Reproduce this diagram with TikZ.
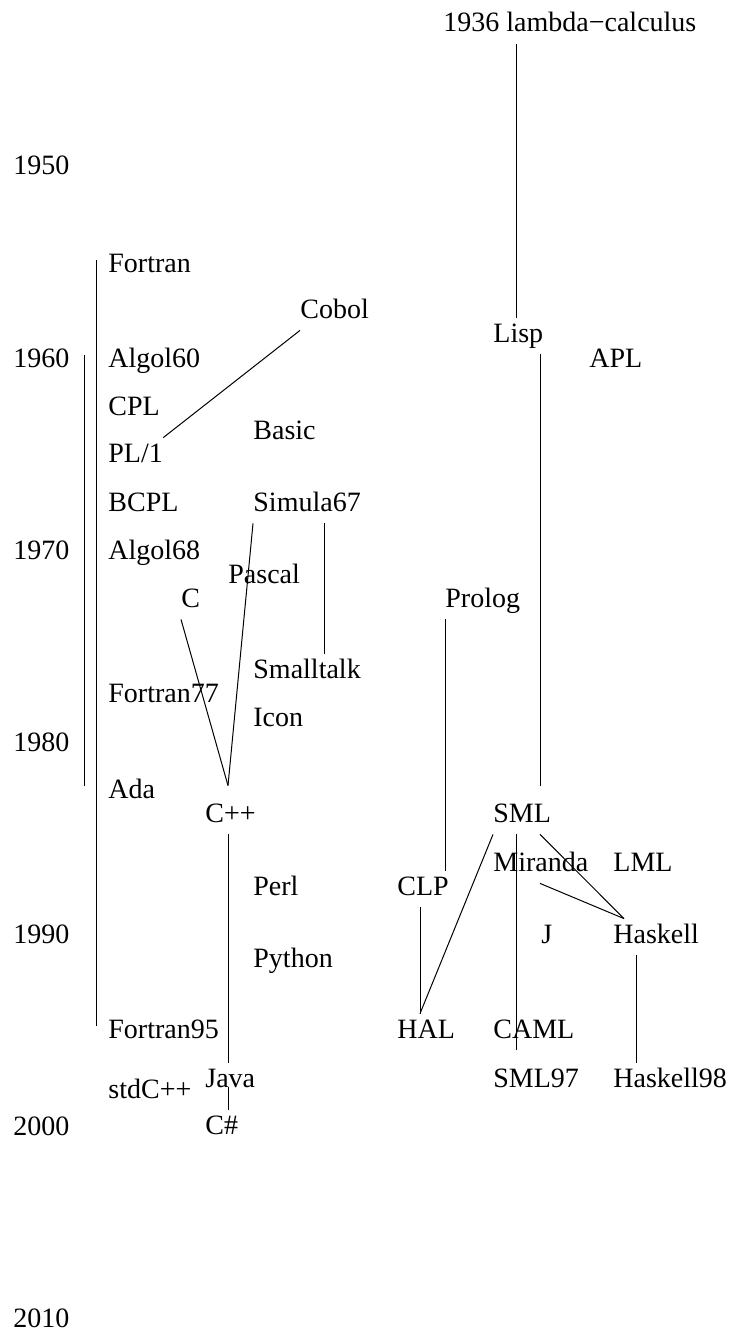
\documentclass[tikz,border=0pt]{standalone}
\usepackage{fontspec}
\setmainfont{Liberation Serif}
\tikzset{
	lang/.style={anchor=base west, inner sep=0pt, text height=12pt, text depth=6pt,
		font=\fontsize{14pt}{16pt}\selectfont},
	link/.style={line width=.5pt}
}
\begin{document}
\begin{tikzpicture}[x=.5pt,y=-.5pt]
	\useasboundingbox (0,0) rectangle (735,1332);
	\foreach \yr [count=\i from 0] in {1950,1960,...,2010}
		\node[lang] (y\yr) at (13,175+192*\i) {\yr};
	\node[lang] (lambda) at (443,32) {1936 lambda−calculus};
	\node[lang] (fortran) at (108,272) {Fortran};
	\node[lang] (cobol) at (300,318) {Cobol};
	\node[lang] (lisp) at (493,342) {Lisp};
	\node[lang] (algol60) at (108,367) {Algol60};
	\node[lang] (apl) at (589,367) {APL};
	\node[lang] (cpl) at (108,415) {CPL};
	\node[lang] (basic) at (253,439) {Basic};
	\node[lang] (pl1) at (108,462) {PL/1};
	\node[lang] (bcpl) at (108,511) {BCPL};
	\node[lang] (simula67) at (253,511) {Simula67};
	\node[lang] (algol68) at (108,559) {Algol68};
	\node[lang] (pascal) at (228,583) {Pascal};
	\node[lang] (c) at (181,607) {C};
	\node[lang] (prolog) at (445,607) {Prolog};
	\node[lang] (smalltalk) at (253,678) {Smalltalk};
	\node[lang] (fortran77) at (108,702) {Fortran77};
	\node[lang] (icon) at (253,726) {Icon};
	\node[lang] (ada) at (108,798) {Ada};
	\node[lang] (cpp) at (205,822) {C++};
	\node[lang] (sml) at (493,822) {SML};
	\node[lang] (miranda) at (493,871) {Miranda};
	\node[lang] (lml) at (613,871) {LML};
	\node[lang] (perl) at (253,895) {Perl};
	\node[lang] (clp) at (397,895) {CLP};
	\node[lang] (j) at (541,943) {J};
	\node[lang] (haskell) at (613,943) {Haskell};
	\node[lang] (python) at (253,967) {Python};
	\node[lang] (fortran95) at (108,1038) {Fortran95};
	\node[lang] (hal) at (397,1038) {HAL};
	\node[lang] (caml) at (493,1038) {CAML};
	\node[lang] (java) at (205,1087) {Java};
	\node[lang] (sml97) at (493,1087) {SML97};
	\node[lang] (haskell98) at (613,1087) {Haskell98};
	\node[lang] (stdcpp) at (108,1098) {stdC++};
	\node[lang] (csharp) at (205,1134) {C\#};
	% imperative side
	\draw[link] ([xshift=-6pt,yshift=6pt]fortran.base west) -- ([xshift=-6pt,yshift=6pt]fortran95.base west);
	\draw[link] ([xshift=-12pt,yshift=6pt]algol60.base west) -- ([xshift=-12pt,yshift=6pt]ada.base west);
	\draw[link] (cobol.south west) -- (pl1.north east);
	\draw[link] (simula67.south west) -- ([xshift=11.5pt,yshift=6pt]cpp.north west);
	\draw[link] (c.south west) -- ([xshift=11.5pt,yshift=6pt]cpp.north west);
	\draw[link] ([xshift=35.5pt]simula67.south west) -- ([xshift=35.5pt]smalltalk.north west);
	\draw[link] ([xshift=11.5pt]cpp.south west) -- ([xshift=11.5pt]java.north west);
	\draw[link] ([xshift=11.5pt]java.base west) -- ([xshift=11.5pt]csharp.north west);
	% functional and logic side
	\draw[link] ([xshift=11.5pt]lisp.north west) -- ([xshift=11.5pt]lisp.north west |- lambda.south);
	\draw[link] ([xshift=23.5pt]lisp.south west) -- ([xshift=23.5pt,yshift=6pt]sml.north west);
	\draw[link] (prolog.south west) -- (prolog.south west |- clp.north);
	\draw[link] ([xshift=11.5pt]clp.south west) -- ([xshift=11.5pt]hal.north west);
	\draw[link] (sml.south west) -- ([xshift=11.5pt]hal.north west);
	\draw[link] ([xshift=11.5pt]sml.south west) -- ([xshift=11.5pt]caml.south west);
	\draw[link] ([xshift=23.5pt]sml.south west) -- ([xshift=5.5pt]haskell.north west);
	\draw[link] ([xshift=23.5pt]miranda.south west) -- ([xshift=5.5pt]haskell.north west);
	\draw[link] ([xshift=11.5pt]haskell.south west) -- ([xshift=11.5pt]haskell98.north west);
\end{tikzpicture}
\end{document}
